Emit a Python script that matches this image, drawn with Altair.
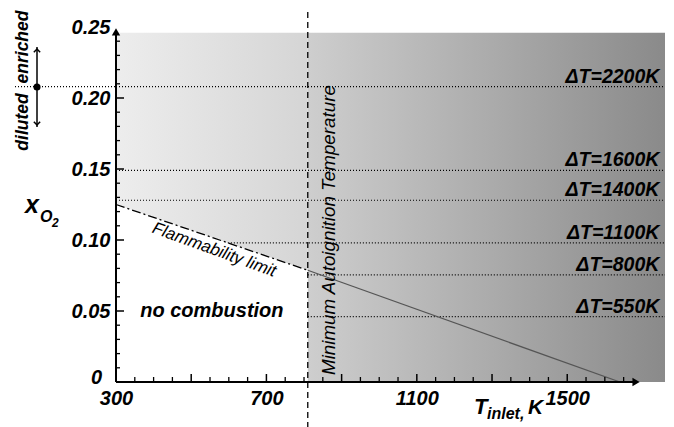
import altair as alt
import pandas as pd

# ---------------- data ----------------
T_min, T_max = 300, 1760          # x domain (K)
X_max = 0.25                      # y domain (x_O2)
T_auto = 810                      # minimum autoignition temperature
gray_top = 0.246

flam_T = [300, 810, 1640]         # flammability limit line
flam_x = [0.125, 0.0787, 0.0]

dT_labels = ["ΔT=2200K", "ΔT=1600K", "ΔT=1400K", "ΔT=1100K", "ΔT=800K", "ΔT=550K"]
dT_xO2 = [0.208, 0.149, 0.128, 0.098, 0.0755, 0.046]

x_label_vals = [300, 700, 1100, 1500]
x_major = [500, 700, 900, 1100, 1300, 1500]
x_minor = [v for v in range(350, 1700, 50) if v % 200 != 100]
y_label_vals = [0.05, 0.10, 0.15, 0.20, 0.25]
y_major = [0.05, 0.10, 0.15, 0.20]
y_minor = [round(i * 0.01, 2) for i in range(1, 25) if i % 5 != 0]

FONT = "Liberation Sans"
LBL = 20

# ---------------- scales & shared axes ----------------
xs = alt.Scale(domain=[T_min, T_max], nice=False, zero=False)
ys = alt.Scale(domain=[0, X_max], nice=False)

axis_style = dict(domain=False, ticks=False, grid=False, labelFont=FONT,
                  labelFontWeight="bold", labelFontStyle="italic",
                  labelFontSize=LBL, labelColor="black", title=None, labelFlush=False)
X_AX = alt.Axis(values=x_label_vals, labelPadding=6, format="d", **axis_style)
Y_AX = alt.Axis(values=y_label_vals, labelPadding=6, format=".2f", **axis_style)


def X(f):
    return alt.X(f, scale=xs, axis=X_AX)


def Y(f):
    return alt.Y(f, scale=ys, axis=Y_AX)


# ---------------- gray regions ----------------
left_df = pd.DataFrame({"T": flam_T[:2], "lo": flam_x[:2], "hi": [gray_top, gray_top]})
right_df = pd.DataFrame({"T": [T_auto, T_max], "lo": [0, 0], "hi": [gray_top, gray_top]})

grad_left = alt.Gradient(gradient="linear",
                         stops=[alt.GradientStop(color="#ededed", offset=0),
                                alt.GradientStop(color="#d5d5d5", offset=1)],
                         x1=0, x2=1, y1=0, y2=0)
grad_right = alt.Gradient(gradient="linear",
                          stops=[alt.GradientStop(color="#cecece", offset=0),
                                 alt.GradientStop(color="#8a8a8a", offset=1)],
                          x1=0, x2=1, y1=0, y2=0)

left_area = alt.Chart(left_df).mark_area(color=grad_left, clip=True).encode(
    x=X("T:Q"), y=Y("hi:Q"), y2="lo:Q")
right_area = alt.Chart(right_df).mark_area(color=grad_right, clip=True).encode(
    x=X("T:Q"), y=Y("hi:Q"), y2="lo:Q")

# ---------------- ΔT dotted lines ----------------
def line_start(v):
    if v >= flam_x[0]:
        return T_min
    cross = flam_T[0] + (flam_x[0] - v) / (flam_x[0] - flam_x[1]) * (flam_T[1] - flam_T[0])
    return min(cross, T_auto)

dT_df = pd.DataFrame({
    "label": dT_labels,
    "v": dT_xO2,
    "start": [line_start(v) for v in dT_xO2],
    "end": [T_max] * len(dT_xO2),
    "tx": [1745] * len(dT_xO2),
})

dotted = alt.Chart(dT_df).mark_rule(color="black", strokeDash=[1, 2], strokeWidth=1.2).encode(
    x=X("start:Q"), x2="end:Q", y=Y("v:Q"))

dotted_out = alt.Chart(dT_df.iloc[[0]]).mark_rule(color="black", strokeDash=[1, 2], strokeWidth=1.2).encode(
    x=alt.value(-101), x2=alt.value(0), y=Y("v:Q"))

dT_text = alt.Chart(dT_df).mark_text(font=FONT, fontWeight="bold", fontStyle="italic",
                                     fontSize=19.5, align="right", baseline="alphabetic",
                                     dy=-4, color="black").encode(
    x=X("tx:Q"), y=Y("v:Q"), text="label:N")

# ---------------- autoignition dashed line ----------------
auto_df = pd.DataFrame({"T": [T_auto]})
auto_line = alt.Chart(auto_df).mark_rule(color="black", strokeDash=[6, 4], strokeWidth=1.3).encode(
    x=X("T:Q"), y=alt.value(-15), y2=alt.value(400))

# ---------------- flammability limit ----------------
flam_df1 = pd.DataFrame({"T": flam_T[:2], "x": flam_x[:2]})
flam_df2 = pd.DataFrame({"T": flam_T[1:], "x": flam_x[1:]})
flam1 = alt.Chart(flam_df1).mark_line(color="black", strokeDash=[9, 3, 2, 3], strokeWidth=1.3).encode(
    x=X("T:Q"), y=Y("x:Q"))
flam2 = alt.Chart(flam_df2).mark_line(color="#555555", strokeWidth=1.3).encode(
    x=X("T:Q"), y=Y("x:Q"))

# ---------------- axes lines, ticks, arrowheads ----------------
xaxis_df = pd.DataFrame({"a": [T_min], "b": [1685], "y": [0]})
xaxis_line = alt.Chart(xaxis_df).mark_rule(color="black", strokeWidth=2).encode(
    x=X("a:Q"), x2="b:Q", y=Y("y:Q"))
yaxis_df = pd.DataFrame({"a": [0], "b": [0.245]})
yaxis_line = alt.Chart(yaxis_df).mark_rule(color="black", strokeWidth=2).encode(
    x=alt.value(0), y=Y("a:Q"), y2="b:Q")

xhead = alt.Chart(pd.DataFrame({"T": [1683], "y": [0]})).mark_point(
    shape="triangle-right", filled=True, color="black", size=70, opacity=1).encode(
    x=X("T:Q"), y=Y("y:Q"))
yhead = alt.Chart(pd.DataFrame({"y": [0.2465]})).mark_point(
    shape="triangle-up", filled=True, color="black", size=70, opacity=1).encode(
    x=alt.value(0), y=Y("y:Q"))

xmaj = alt.Chart(pd.DataFrame({"T": x_major})).mark_rule(color="black", strokeWidth=1.5).encode(
    x=X("T:Q"), y=alt.value(355), y2=alt.value(347))
xmin = alt.Chart(pd.DataFrame({"T": x_minor})).mark_rule(color="black", strokeWidth=1.3).encode(
    x=X("T:Q"), y=alt.value(355), y2=alt.value(350))
ymaj = alt.Chart(pd.DataFrame({"v": y_major})).mark_rule(color="black", strokeWidth=1.5).encode(
    y=Y("v:Q"), x=alt.value(0), x2=alt.value(8))
ymin = alt.Chart(pd.DataFrame({"v": y_minor})).mark_rule(color="black", strokeWidth=1.3).encode(
    y=Y("v:Q"), x=alt.value(0), x2=alt.value(4))

# ---------------- annotations inside the plot ----------------
flam_text = alt.Chart(pd.DataFrame({"T": [561], "x": [0.093], "t": ["Flammability limit"]})).mark_text(
    font=FONT, fontStyle="italic", fontSize=17, angle=20, align="center", baseline="middle",
    color="black").encode(x=X("T:Q"), y=Y("x:Q"), text="t:N")

nocomb_text = alt.Chart(pd.DataFrame({"T": [555], "x": [0.05], "t": ["no combustion"]})).mark_text(
    font=FONT, fontStyle="italic", fontWeight="bold", fontSize=20, align="center", baseline="middle",
    color="black").encode(x=X("T:Q"), y=Y("x:Q"), text="t:N")

auto_text = alt.Chart(pd.DataFrame({"T": [866], "x": [0.107], "t": ["Minimum Autoignition Temperature"]})).mark_text(
    font=FONT, fontStyle="italic", fontSize=18.8, angle=270, align="center", baseline="middle",
    color="black").encode(x=X("T:Q"), y=Y("x:Q"), text="t:N")

# ---------------- titles & outside annotations ----------------
def txt(s, x, y, size, bold=True, italic=True, angle=0, align="left", baseline="alphabetic"):
    kw = dict(font=FONT, fontSize=size, align=align, baseline=baseline, color="black", text=s)
    if bold:
        kw["fontWeight"] = "bold"
    if italic:
        kw["fontStyle"] = "italic"
    if angle:
        kw["angle"] = angle
    return alt.Chart(auto_df).mark_text(**kw).encode(x=alt.value(x), y=alt.value(y))

zero_lbl = txt("0", -14, 357, LBL, align="right")

xt_T = txt("T", 358, 387, 22)
xt_sub = txt("inlet,", 371, 392, 16)
xt_K = txt("K", 412, 387, 21)

yt_x = txt("x", -91, 186, 25)
yt_O = txt("O", -76, 195, 16)
yt_2 = txt("2", -64, 200, 12)

t_enr = txt("enriched", -93, 20, 17.5, angle=270, align="center", baseline="middle")
t_dil = txt("diluted", -93, 95, 17.5, angle=270, align="center", baseline="middle")

arrow_line = alt.Chart(auto_df).mark_rule(color="black", strokeWidth=1.5).encode(
    x=alt.value(-79), y=alt.value(20), y2=alt.value(100))
arrow_heads = alt.Chart(pd.DataFrame({"yy": [22, 98], "s": ["M -1 1 L 0 0 L 1 1", "M -1 -1 L 0 0 L 1 -1"]})).mark_point(
    filled=False, color="black", strokeWidth=1.5, size=40, opacity=1).encode(
    x=alt.value(-79), y=alt.Y("yy:Q", scale=None), shape=alt.Shape("s:N", scale=None))
dot = alt.Chart(auto_df).mark_point(shape="circle", filled=True, color="black", size=50, opacity=1).encode(
    x=alt.value(-79), y=alt.value(60))

chart = alt.layer(
    left_area, right_area, dotted, dotted_out, auto_line, flam1, flam2,
    xaxis_line, yaxis_line, xhead, yhead, xmaj, xmin, ymaj, ymin,
    dT_text, flam_text, nocomb_text, auto_text, zero_lbl,
    xt_T, xt_sub, xt_K, yt_x, yt_O, yt_2, t_enr, t_dil,
    arrow_line, arrow_heads, dot,
).properties(
    width=549, height=355,
    autosize=alt.AutoSizeParams(type="none"),
    padding={"left": 116, "top": 27, "right": 9, "bottom": 45},
    background="white",
).configure_view(stroke=None)

chart.save("out.html", embed_options={"renderer": "svg", "actions": False})
